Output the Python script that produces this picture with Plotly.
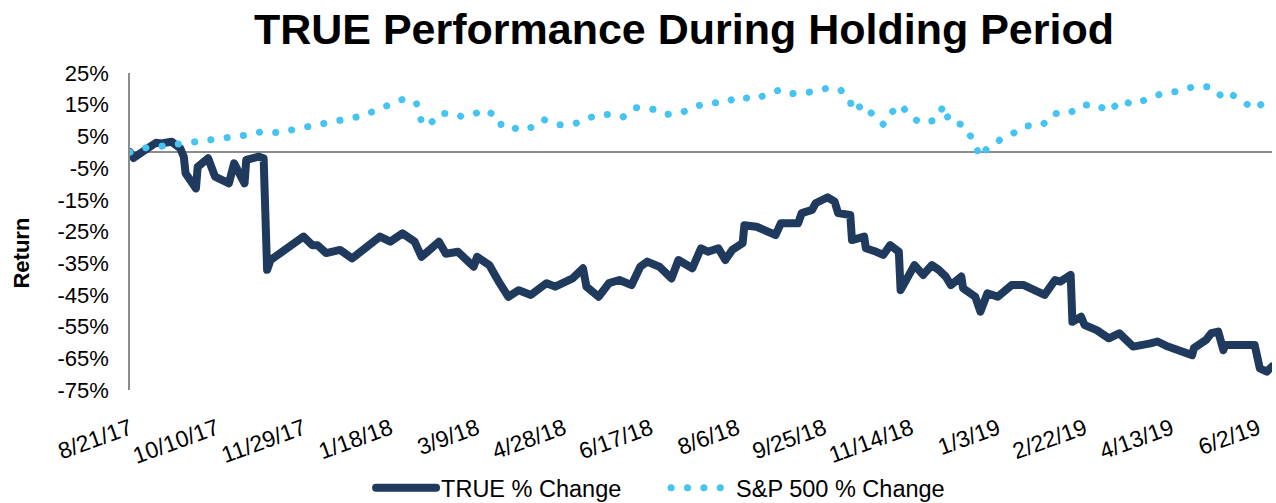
import plotly.graph_objects as go

# ---------------- data ----------------
true_dates = [
    "2017-08-21", "2017-08-23", "2017-08-31", "2017-09-05", "2017-09-08", "2017-09-14",
    "2017-09-19", "2017-09-21", "2017-09-22", "2017-09-28", "2017-09-29", "2017-10-05",
    "2017-10-09", "2017-10-17", "2017-10-20", "2017-10-23", "2017-10-26", "2017-10-27",
    "2017-11-03", "2017-11-06", "2017-11-08", "2017-11-10", "2017-11-15", "2017-11-29",
    "2017-12-04", "2017-12-07", "2017-12-12", "2017-12-18", "2017-12-20", "2017-12-27",
    "2018-01-02", "2018-01-12", "2018-01-18", "2018-01-25", "2018-02-01", "2018-02-05",
    "2018-02-15", "2018-02-19", "2018-02-26", "2018-03-07", "2018-03-09", "2018-03-16",
    "2018-03-22", "2018-03-27", "2018-04-02", "2018-04-09", "2018-04-18", "2018-04-23",
    "2018-05-03", "2018-05-09", "2018-05-11", "2018-05-18", "2018-05-24", "2018-05-30",
    "2018-06-06", "2018-06-11", "2018-06-15", "2018-06-22", "2018-06-29", "2018-07-03",
    "2018-07-11", "2018-07-16", "2018-07-20", "2018-07-26", "2018-07-30", "2018-08-03",
    "2018-08-09", "2018-08-10", "2018-08-17", "2018-08-22", "2018-08-28", "2018-08-31",
    "2018-09-10", "2018-09-12", "2018-09-18", "2018-09-20", "2018-09-27", "2018-10-01",
    "2018-10-03", "2018-10-10", "2018-10-11", "2018-10-18", "2018-10-19", "2018-10-25",
    "2018-10-29", "2018-11-02", "2018-11-07", "2018-11-08", "2018-11-13", "2018-11-16",
    "2018-11-21", "2018-11-26", "2018-11-30", "2018-12-04", "2018-12-07", "2018-12-13",
    "2018-12-14", "2018-12-21", "2018-12-24", "2018-12-28", "2019-01-03", "2019-01-11",
    "2019-01-18", "2019-01-25", "2019-01-30", "2019-02-05", "2019-02-08", "2019-02-14",
    "2019-02-15", "2019-02-20", "2019-02-22", "2019-03-01", "2019-03-08", "2019-03-14",
    "2019-03-22", "2019-04-01", "2019-04-05", "2019-04-11", "2019-04-16", "2019-04-25",
    "2019-04-26", "2019-05-03", "2019-05-06", "2019-05-10", "2019-05-13", "2019-05-14",
    "2019-05-31", "2019-06-03", "2019-06-07", "2019-06-10",
]
true_change = [
    0.0, -1.8, 1.2, 3.0, 2.8, 3.3,
    1.2, -1.4, -6.6, -11.4, -4.6, -1.9,
    -7.7, -9.8, -3.5, -7.2, -9.8, -2.4,
    -1.4, -1.9, -37.1, -34.0, -31.9, -26.6,
    -29.3, -29.3, -31.8, -31.0, -30.8, -33.5,
    -30.8, -26.6, -28.2, -25.6, -28.2, -33.0,
    -28.2, -32.0, -31.4, -36.1, -33.0, -35.6,
    -41.3, -45.6, -43.5, -45.0, -41.3, -42.4,
    -39.8, -36.6, -42.4, -45.6, -41.3, -40.3,
    -41.9, -36.1, -34.5, -36.1, -39.8, -34.0,
    -36.6, -30.3, -31.4, -30.3, -34.0, -30.8,
    -28.7, -23.0, -23.5, -25.0, -26.1, -22.4,
    -22.4, -19.2, -18.2, -16.1, -14.2, -15.6,
    -19.2, -19.8, -27.7, -26.6, -30.3, -31.4,
    -32.4, -29.3, -31.4, -43.5, -39.2, -35.6,
    -38.7, -35.6, -37.1, -39.2, -41.9, -39.2,
    -42.9, -45.6, -50.3, -44.5, -45.6, -41.9,
    -41.9, -44.0, -45.0, -40.3, -40.8, -38.7,
    -53.5, -51.9, -54.5, -56.1, -58.7, -57.1,
    -61.3, -60.3, -59.7, -61.3, -62.4, -64.0,
    -61.8, -59.2, -57.1, -56.6, -62.4, -60.8,
    -60.8, -68.2, -69.2, -67.6,
]

sp_dates = [
    "2017-08-21", "2017-09-01", "2017-09-08", "2017-09-20", "2017-09-29", "2017-10-09",
    "2017-10-19", "2017-10-27", "2017-11-06", "2017-11-16", "2017-11-24", "2017-12-05",
    "2017-12-14", "2017-12-22", "2018-01-02", "2018-01-11", "2018-01-18", "2018-01-26",
    "2018-02-02", "2018-02-05", "2018-02-08", "2018-02-09", "2018-02-15", "2018-02-23",
    "2018-03-01", "2018-03-08", "2018-03-13", "2018-03-22", "2018-03-23", "2018-03-29",
    "2018-04-02", "2018-04-09", "2018-04-16", "2018-04-24", "2018-05-02", "2018-05-09",
    "2018-05-17", "2018-05-25", "2018-06-01", "2018-06-08", "2018-06-19", "2018-06-26",
    "2018-07-05", "2018-07-12", "2018-07-20", "2018-07-30", "2018-08-07", "2018-08-15",
    "2018-08-23", "2018-08-31", "2018-09-07", "2018-09-17", "2018-09-26", "2018-10-04",
    "2018-10-10", "2018-10-11", "2018-10-18", "2018-10-24", "2018-10-29", "2018-11-02",
    "2018-11-08", "2018-11-14", "2018-11-20", "2018-11-28", "2018-12-03", "2018-12-06",
    "2018-12-14", "2018-12-19", "2018-12-24", "2018-12-26", "2019-01-02", "2019-01-04",
    "2019-01-14", "2019-01-18", "2019-01-29", "2019-02-04", "2019-02-13", "2019-02-20",
    "2019-03-01", "2019-03-08", "2019-03-15", "2019-03-22", "2019-04-01", "2019-04-09",
    "2019-04-18", "2019-04-26", "2019-05-06", "2019-05-13", "2019-05-17", "2019-05-24",
    "2019-05-31", "2019-06-07", "2019-06-10",
]
sp_change = [
    0.0, 1.7, 1.9, 2.7, 3.6, 4.3,
    4.8, 5.4, 6.6, 6.1, 7.3, 8.3,
    9.4, 10.3, 11.5, 13.3, 15.1, 16.9,
    15.6, 9.6, 9.1, 8.3, 12.2, 12.2,
    11.1, 12.2, 13.5, 10.8, 8.2, 8.2,
    6.9, 7.8, 10.4, 8.7, 8.7, 9.8,
    11.9, 11.9, 11.1, 14.1, 13.5, 11.9,
    12.5, 14.3, 15.6, 15.6, 17.7, 16.6,
    18.0, 19.8, 18.5, 19.0, 20.1, 19.9,
    16.4, 13.0, 15.1, 11.1, 8.8, 12.2,
    15.0, 11.1, 9.2, 10.1, 14.8, 9.6,
    8.7, 4.5, -1.5, 0.4, 2.7, 3.8,
    6.6, 8.2, 8.7, 12.2, 12.2, 14.8,
    15.1, 12.7, 16.4, 15.0, 17.2, 18.8,
    19.2, 20.8, 20.6, 17.1, 18.5, 16.3,
    13.6, 16.4, 16.8,
]

y_tick_values = [25, 15, 5, -5, -15, -25, -35, -45, -55, -65, -75]
y_tick_labels = ["25%", "15%", "5%", "-5%", "-15%", "-25%", "-35%", "-45%", "-55%", "-65%", "-75%"]

title_text = "TRUE Performance During Holding Period"
y_title = "Return"
series_names = ["TRUE % Change", "S&P 500 % Change"]
x_start, x_end = "2017-08-21", "2019-06-10"

# ---------------- figure ----------------
FONT = "Liberation Sans, Arial, Helvetica, sans-serif"
NAVY = "#1F3A5D"
SKY = "#45C4F2"

fig = go.Figure()
fig.add_trace(go.Scatter(
    x=true_dates, y=true_change, mode="lines", name=series_names[0],
    line=dict(color=NAVY, width=8),
))
fig.add_trace(go.Scatter(
    x=sp_dates, y=sp_change, mode="lines", name=series_names[1],
    line=dict(color=SKY, width=7, dash="0.1px,16.3px"),
))

fig.update_layout(
    width=1276, height=503,
    paper_bgcolor="white", plot_bgcolor="white",
    margin=dict(l=130, r=4, t=73, b=113, autoexpand=False),
    font=dict(family=FONT, color="#000000", size=22),
    title=dict(
        text="<b>" + title_text + "</b>",
        font=dict(family=FONT, size=43, color="#000000"),
        x=0.536, xanchor="center", xref="container",
        y=0.942, yanchor="middle", yref="container",
    ),
    showlegend=True,
    legend=dict(
        orientation="h", xref="container", yref="container",
        x=0.522, xanchor="center", y=0.03, yanchor="middle",
        itemwidth=60, entrywidth=220, font=dict(size=23.5, family=FONT),
        bgcolor="rgba(0,0,0,0)",
    ),
    annotations=[dict(
        text="<b>" + y_title + "</b>", textangle=-90,
        xref="paper", yref="paper", x=-0.095, y=0.432,
        xanchor="center", yanchor="middle", showarrow=False,
        font=dict(size=22, family=FONT, color="#000000"),
    )],
)

fig.update_xaxes(
    type="date", range=[x_start, x_end], automargin=False,
    tick0=x_start, dtick=50 * 86400000, tickformat="%-m/%-d/%y",
    tickangle=-20, ticks="", showgrid=False, showline=False, zeroline=False,
    tickfont=dict(size=23, family=FONT), ticklabelstandoff=20,
)
fig.update_yaxes(
    range=[-75, 25], automargin=False,
    tickmode="array", tickvals=y_tick_values, ticktext=y_tick_labels,
    ticks="", showgrid=False,
    showline=True, linecolor="#8C8C8C", linewidth=1.5,
    zeroline=True, zerolinecolor="#8C8C8C", zerolinewidth=1.5,
    tickfont=dict(size=22, family=FONT), ticklabelstandoff=15,
)

css_js = (
    "document.body.style.margin='0';"
    "document.body.style.padding='0';"
    "var s=document.createElement('style');"
    "s.textContent='body{margin:0;padding:0;} .scatterlayer path.js-line, .legendlines path{stroke-linecap:round !important;stroke-linejoin:round !important;}';"
    "document.head.appendChild(s);"
)
fig.write_html("out.html", post_script=css_js, config={"displayModeBar": False})
